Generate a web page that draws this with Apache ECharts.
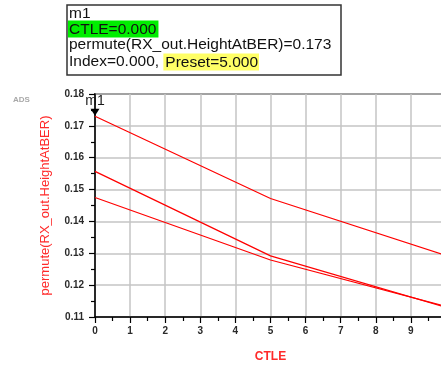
<!DOCTYPE html>
<html>
<head>
<meta charset="utf-8">
<script src="https://cdn.jsdelivr.net/npm/echarts@6/dist/echarts.min.js"></script>
<style>
  html, body { margin: 0; padding: 0; background: #fff; }
  #chart { width: 441px; height: 369px; }
</style>
</head>
<body>
<div id="chart"></div>
<script>
// CTLE sweep points and the three permuted eye-height traces
var ctle = [0, 5, 10];
var traceA = [0.173, 0.1472, 0.1293];
var traceB = [0.1557, 0.1292, 0.1130];
var traceC = [0.1475, 0.1279, 0.1133];

var xTicks = { min: 0, max: 10, step: 1 };
var yTicks = { min: 0.11, max: 0.18, step: 0.01 };

// marker m1 readout
var markerName = 'm1';
var markerIndex = 0;
var markerPreset = 5;

var FONT = '"Liberation Sans", Arial, sans-serif';

function pairs(xs, ys) {
  return xs.map(function (x, i) { return [x, ys[i]]; });
}

function lineSeries(name, ys, extra) {
  var s = {
    name: name,
    type: 'line',
    data: pairs(ctle, ys),
    showSymbol: false,
    symbol: 'none',
    lineStyle: { color: '#ff0000', width: 1.2 },
    animation: false
  };
  for (var k in extra) s[k] = extra[k];
  return s;
}

var mx = ctle[0], my = traceA[0];

var chart = echarts.init(document.getElementById('chart'), null, { renderer: 'canvas' });
chart.setOption({
  animation: false,
  backgroundColor: '#fff',
  grid: {
    left: 95, top: 94, width: 351, height: 223,
    outerBoundsMode: 'none',
    containLabel: false,
    show: true, borderColor: '#000', borderWidth: 1.5, backgroundColor: 'transparent'
  },
  xAxis: {
    type: 'value',
    min: xTicks.min, max: xTicks.max, interval: xTicks.step,
    name: 'CTLE',
    nameLocation: 'middle',
    nameGap: 34,
    nameTextStyle: { color: '#ff2a2a', fontSize: 12, fontWeight: 'bold', fontFamily: FONT },
    axisLine: { lineStyle: { color: '#000', width: 1.5 } },
    axisTick: { show: true, length: 6, lineStyle: { color: '#000', width: 1.2 } },
    minorTick: { show: true, splitNumber: 2, length: 4, lineStyle: { color: '#000', width: 1.2 } },
    axisLabel: { color: '#2a2a2a', fontSize: 10, fontWeight: 'bold', fontFamily: FONT, margin: 9 },
    splitLine: { show: true, lineStyle: { color: '#c4c4c4', width: 1.5 } }
  },
  yAxis: {
    type: 'value',
    min: yTicks.min, max: yTicks.max, interval: yTicks.step,
    name: 'permute(RX_out.HeightAtBER)',
    nameLocation: 'middle',
    nameGap: 43,
    nameRotate: 90,
    nameTextStyle: { color: '#ff2a2a', fontSize: 13, fontFamily: FONT },
    axisLine: { lineStyle: { color: '#000', width: 1.5 } },
    axisTick: { show: true, length: 6, lineStyle: { color: '#000', width: 1.2 } },
    minorTick: { show: true, splitNumber: 2, length: 4, lineStyle: { color: '#000', width: 1.2 } },
    axisLabel: {
      color: '#2a2a2a', fontSize: 10, fontWeight: 'bold', fontFamily: FONT, margin: 11,
      formatter: function (v) { return v.toFixed(2); }
    },
    splitLine: { show: true, lineStyle: { color: '#c4c4c4', width: 1.5 } }
  },
  series: [
    lineSeries('A', traceA, {
      markPoint: {
        symbol: 'triangle',
        symbolSize: [9, 7],
        symbolRotate: 180,
        symbolOffset: [0, -4],
        itemStyle: { color: '#000' },
        label: {
          show: true, position: 'top', distance: 1,
          formatter: markerName,
          color: '#1a1a1a', fontSize: 14, fontFamily: FONT
        },
        data: [{ coord: [mx, my] }]
      }
    }),
    lineSeries('B', traceB, {}),
    lineSeries('C', traceC, {})
  ],
  graphic: [
    {
      type: 'text', left: 13, top: 96,
      style: { text: 'ADS', fill: '#a8a8a8', font: 'bold 8px ' + FONT }
    },
    {
      type: 'rect',
      shape: { x: 67, y: 5, width: 274, height: 70 },
      style: { fill: '#fff', stroke: '#333', lineWidth: 1.5 }
    },
    {
      type: 'text', x: 69, y: 14,
      style: { text: markerName, fill: '#111', font: '15.5px ' + FONT, verticalAlign: 'middle' }
    },
    {
      type: 'text', x: 68, y: 29,
      style: {
        text: '{g|CTLE=' + mx.toFixed(3) + '}',
        verticalAlign: 'middle',
        rich: { g: { backgroundColor: '#00ee00', fill: '#111', font: '15.5px ' + FONT, padding: [1, 2, 0, 1] } }
      }
    },
    {
      type: 'text', x: 69, y: 45,
      style: {
        text: 'permute(RX_out.HeightAtBER)=' + my.toFixed(3),
        fill: '#111', font: '15.5px ' + FONT, verticalAlign: 'middle'
      }
    },
    {
      type: 'text', x: 69, y: 62,
      style: {
        text: '{p|Index=' + markerIndex.toFixed(3) + ', }{y|Preset=' + markerPreset.toFixed(3) + '}',
        verticalAlign: 'middle',
        rich: {
          p: { fill: '#111', font: '15.5px ' + FONT },
          y: { backgroundColor: '#ffff66', fill: '#111', font: '15.5px ' + FONT, padding: [1, 1, 0, 2] }
        }
      }
    }
  ]
});
</script>
</body>
</html>
